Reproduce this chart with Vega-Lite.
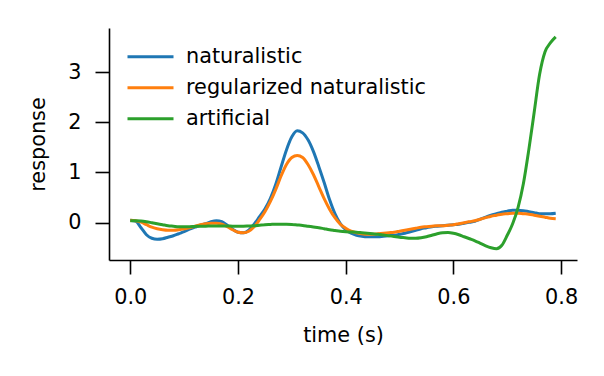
{
  "$schema": "https://vega.github.io/schema/vega-lite/v6.json",
  "width": 468,
  "height": 232,
  "autosize": {"type": "none"},
  "padding": {"left": 109, "top": 28, "right": 27, "bottom": 116},
  "background": "white",
  "config": {
    "font": "DejaVu Sans",
    "view": {"stroke": null},
    "axis": {
      "grid": false,
      "domainColor": "black",
      "domainWidth": 1.6,
      "tickColor": "black",
      "tickWidth": 1.6,
      "tickSize": 14,
      "labelColor": "black",
      "labelFontSize": 20.8,
      "titleColor": "black",
      "titleFontSize": 20.8,
      "titleFontWeight": "normal"
    }
  },
  "data": {"values": [
    {"s":"naturalistic","t":0.00,"v":0.05},{"s":"naturalistic","t":0.01,"v":0.03},{"s":"naturalistic","t":0.02,"v":-0.10},{"s":"naturalistic","t":0.03,"v":-0.24},{"s":"naturalistic","t":0.04,"v":-0.31},{"s":"naturalistic","t":0.05,"v":-0.33},{"s":"naturalistic","t":0.06,"v":-0.32},{"s":"naturalistic","t":0.07,"v":-0.29},{"s":"naturalistic","t":0.08,"v":-0.26},{"s":"naturalistic","t":0.09,"v":-0.22},
    {"s":"naturalistic","t":0.10,"v":-0.18},{"s":"naturalistic","t":0.11,"v":-0.13},{"s":"naturalistic","t":0.12,"v":-0.09},{"s":"naturalistic","t":0.13,"v":-0.05},{"s":"naturalistic","t":0.14,"v":-0.02},{"s":"naturalistic","t":0.15,"v":0.02},{"s":"naturalistic","t":0.16,"v":0.04},{"s":"naturalistic","t":0.17,"v":0.02},{"s":"naturalistic","t":0.18,"v":-0.05},{"s":"naturalistic","t":0.19,"v":-0.13},
    {"s":"naturalistic","t":0.20,"v":-0.19},{"s":"naturalistic","t":0.21,"v":-0.20},{"s":"naturalistic","t":0.22,"v":-0.15},{"s":"naturalistic","t":0.23,"v":-0.03},{"s":"naturalistic","t":0.24,"v":0.12},{"s":"naturalistic","t":0.25,"v":0.27},{"s":"naturalistic","t":0.26,"v":0.48},{"s":"naturalistic","t":0.27,"v":0.76},{"s":"naturalistic","t":0.28,"v":1.11},{"s":"naturalistic","t":0.29,"v":1.45},
    {"s":"naturalistic","t":0.30,"v":1.71},{"s":"naturalistic","t":0.31,"v":1.83},{"s":"naturalistic","t":0.32,"v":1.79},{"s":"naturalistic","t":0.33,"v":1.65},{"s":"naturalistic","t":0.34,"v":1.42},{"s":"naturalistic","t":0.35,"v":1.12},{"s":"naturalistic","t":0.36,"v":0.80},{"s":"naturalistic","t":0.37,"v":0.46},{"s":"naturalistic","t":0.38,"v":0.18},{"s":"naturalistic","t":0.39,"v":-0.02},
    {"s":"naturalistic","t":0.40,"v":-0.14},{"s":"naturalistic","t":0.41,"v":-0.21},{"s":"naturalistic","t":0.42,"v":-0.25},{"s":"naturalistic","t":0.43,"v":-0.27},{"s":"naturalistic","t":0.44,"v":-0.28},{"s":"naturalistic","t":0.45,"v":-0.28},{"s":"naturalistic","t":0.46,"v":-0.28},{"s":"naturalistic","t":0.47,"v":-0.27},{"s":"naturalistic","t":0.48,"v":-0.26},{"s":"naturalistic","t":0.49,"v":-0.25},
    {"s":"naturalistic","t":0.50,"v":-0.23},{"s":"naturalistic","t":0.51,"v":-0.21},{"s":"naturalistic","t":0.52,"v":-0.18},{"s":"naturalistic","t":0.53,"v":-0.15},{"s":"naturalistic","t":0.54,"v":-0.12},{"s":"naturalistic","t":0.55,"v":-0.10},{"s":"naturalistic","t":0.56,"v":-0.08},{"s":"naturalistic","t":0.57,"v":-0.07},{"s":"naturalistic","t":0.58,"v":-0.06},{"s":"naturalistic","t":0.59,"v":-0.05},
    {"s":"naturalistic","t":0.60,"v":-0.04},{"s":"naturalistic","t":0.61,"v":-0.03},{"s":"naturalistic","t":0.62,"v":-0.01},{"s":"naturalistic","t":0.63,"v":0.01},{"s":"naturalistic","t":0.64,"v":0.03},{"s":"naturalistic","t":0.65,"v":0.07},{"s":"naturalistic","t":0.66,"v":0.11},{"s":"naturalistic","t":0.67,"v":0.15},{"s":"naturalistic","t":0.68,"v":0.18},{"s":"naturalistic","t":0.69,"v":0.21},
    {"s":"naturalistic","t":0.70,"v":0.23},{"s":"naturalistic","t":0.71,"v":0.25},{"s":"naturalistic","t":0.72,"v":0.25},{"s":"naturalistic","t":0.73,"v":0.24},{"s":"naturalistic","t":0.74,"v":0.22},{"s":"naturalistic","t":0.75,"v":0.20},{"s":"naturalistic","t":0.76,"v":0.18},{"s":"naturalistic","t":0.77,"v":0.18},{"s":"naturalistic","t":0.78,"v":0.18},{"s":"naturalistic","t":0.79,"v":0.19},

    {"s":"regularized naturalistic","t":0.00,"v":0.05},{"s":"regularized naturalistic","t":0.01,"v":0.04},{"s":"regularized naturalistic","t":0.02,"v":0.01},{"s":"regularized naturalistic","t":0.03,"v":-0.04},{"s":"regularized naturalistic","t":0.04,"v":-0.09},{"s":"regularized naturalistic","t":0.05,"v":-0.12},{"s":"regularized naturalistic","t":0.06,"v":-0.14},{"s":"regularized naturalistic","t":0.07,"v":-0.15},{"s":"regularized naturalistic","t":0.08,"v":-0.15},{"s":"regularized naturalistic","t":0.09,"v":-0.14},
    {"s":"regularized naturalistic","t":0.10,"v":-0.12},{"s":"regularized naturalistic","t":0.11,"v":-0.10},{"s":"regularized naturalistic","t":0.12,"v":-0.07},{"s":"regularized naturalistic","t":0.13,"v":-0.04},{"s":"regularized naturalistic","t":0.14,"v":-0.02},{"s":"regularized naturalistic","t":0.15,"v":-0.01},{"s":"regularized naturalistic","t":0.16,"v":-0.01},{"s":"regularized naturalistic","t":0.17,"v":-0.03},{"s":"regularized naturalistic","t":0.18,"v":-0.08},{"s":"regularized naturalistic","t":0.19,"v":-0.14},
    {"s":"regularized naturalistic","t":0.20,"v":-0.19},{"s":"regularized naturalistic","t":0.21,"v":-0.20},{"s":"regularized naturalistic","t":0.22,"v":-0.17},{"s":"regularized naturalistic","t":0.23,"v":-0.08},{"s":"regularized naturalistic","t":0.24,"v":0.06},{"s":"regularized naturalistic","t":0.25,"v":0.22},{"s":"regularized naturalistic","t":0.26,"v":0.42},{"s":"regularized naturalistic","t":0.27,"v":0.66},{"s":"regularized naturalistic","t":0.28,"v":0.93},{"s":"regularized naturalistic","t":0.29,"v":1.16},
    {"s":"regularized naturalistic","t":0.30,"v":1.30},{"s":"regularized naturalistic","t":0.31,"v":1.34},{"s":"regularized naturalistic","t":0.32,"v":1.30},{"s":"regularized naturalistic","t":0.33,"v":1.16},{"s":"regularized naturalistic","t":0.34,"v":0.96},{"s":"regularized naturalistic","t":0.35,"v":0.72},{"s":"regularized naturalistic","t":0.36,"v":0.48},{"s":"regularized naturalistic","t":0.37,"v":0.27},{"s":"regularized naturalistic","t":0.38,"v":0.10},{"s":"regularized naturalistic","t":0.39,"v":-0.03},
    {"s":"regularized naturalistic","t":0.40,"v":-0.11},{"s":"regularized naturalistic","t":0.41,"v":-0.17},{"s":"regularized naturalistic","t":0.42,"v":-0.20},{"s":"regularized naturalistic","t":0.43,"v":-0.22},{"s":"regularized naturalistic","t":0.44,"v":-0.23},{"s":"regularized naturalistic","t":0.45,"v":-0.23},{"s":"regularized naturalistic","t":0.46,"v":-0.22},{"s":"regularized naturalistic","t":0.47,"v":-0.21},{"s":"regularized naturalistic","t":0.48,"v":-0.20},{"s":"regularized naturalistic","t":0.49,"v":-0.19},
    {"s":"regularized naturalistic","t":0.50,"v":-0.17},{"s":"regularized naturalistic","t":0.51,"v":-0.15},{"s":"regularized naturalistic","t":0.52,"v":-0.13},{"s":"regularized naturalistic","t":0.53,"v":-0.11},{"s":"regularized naturalistic","t":0.54,"v":-0.09},{"s":"regularized naturalistic","t":0.55,"v":-0.08},{"s":"regularized naturalistic","t":0.56,"v":-0.07},{"s":"regularized naturalistic","t":0.57,"v":-0.06},{"s":"regularized naturalistic","t":0.58,"v":-0.06},{"s":"regularized naturalistic","t":0.59,"v":-0.05},
    {"s":"regularized naturalistic","t":0.60,"v":-0.04},{"s":"regularized naturalistic","t":0.61,"v":-0.02},{"s":"regularized naturalistic","t":0.62,"v":0.00},{"s":"regularized naturalistic","t":0.63,"v":0.02},{"s":"regularized naturalistic","t":0.64,"v":0.04},{"s":"regularized naturalistic","t":0.65,"v":0.07},{"s":"regularized naturalistic","t":0.66,"v":0.10},{"s":"regularized naturalistic","t":0.67,"v":0.13},{"s":"regularized naturalistic","t":0.68,"v":0.15},{"s":"regularized naturalistic","t":0.69,"v":0.17},
    {"s":"regularized naturalistic","t":0.70,"v":0.18},{"s":"regularized naturalistic","t":0.71,"v":0.19},{"s":"regularized naturalistic","t":0.72,"v":0.19},{"s":"regularized naturalistic","t":0.73,"v":0.18},{"s":"regularized naturalistic","t":0.74,"v":0.17},{"s":"regularized naturalistic","t":0.75,"v":0.15},{"s":"regularized naturalistic","t":0.76,"v":0.13},{"s":"regularized naturalistic","t":0.77,"v":0.11},{"s":"regularized naturalistic","t":0.78,"v":0.09},{"s":"regularized naturalistic","t":0.79,"v":0.08},

    {"s":"artificial","t":0.00,"v":0.04},{"s":"artificial","t":0.01,"v":0.04},{"s":"artificial","t":0.02,"v":0.035},{"s":"artificial","t":0.03,"v":0.02},{"s":"artificial","t":0.04,"v":0.00},{"s":"artificial","t":0.05,"v":-0.02},{"s":"artificial","t":0.06,"v":-0.04},{"s":"artificial","t":0.07,"v":-0.06},{"s":"artificial","t":0.08,"v":-0.07},{"s":"artificial","t":0.09,"v":-0.08},
    {"s":"artificial","t":0.10,"v":-0.08},{"s":"artificial","t":0.11,"v":-0.08},{"s":"artificial","t":0.12,"v":-0.075},{"s":"artificial","t":0.13,"v":-0.07},{"s":"artificial","t":0.14,"v":-0.07},{"s":"artificial","t":0.15,"v":-0.065},{"s":"artificial","t":0.16,"v":-0.065},{"s":"artificial","t":0.17,"v":-0.065},{"s":"artificial","t":0.18,"v":-0.065},{"s":"artificial","t":0.19,"v":-0.07},
    {"s":"artificial","t":0.20,"v":-0.07},{"s":"artificial","t":0.21,"v":-0.07},{"s":"artificial","t":0.22,"v":-0.065},{"s":"artificial","t":0.23,"v":-0.06},{"s":"artificial","t":0.24,"v":-0.05},{"s":"artificial","t":0.25,"v":-0.04},{"s":"artificial","t":0.26,"v":-0.035},{"s":"artificial","t":0.27,"v":-0.03},{"s":"artificial","t":0.28,"v":-0.03},{"s":"artificial","t":0.29,"v":-0.03},
    {"s":"artificial","t":0.30,"v":-0.035},{"s":"artificial","t":0.31,"v":-0.045},{"s":"artificial","t":0.32,"v":-0.055},{"s":"artificial","t":0.33,"v":-0.07},{"s":"artificial","t":0.34,"v":-0.085},{"s":"artificial","t":0.35,"v":-0.10},{"s":"artificial","t":0.36,"v":-0.12},{"s":"artificial","t":0.37,"v":-0.14},{"s":"artificial","t":0.38,"v":-0.155},{"s":"artificial","t":0.39,"v":-0.17},
    {"s":"artificial","t":0.40,"v":-0.18},{"s":"artificial","t":0.41,"v":-0.185},{"s":"artificial","t":0.42,"v":-0.19},{"s":"artificial","t":0.43,"v":-0.20},{"s":"artificial","t":0.44,"v":-0.21},{"s":"artificial","t":0.45,"v":-0.22},{"s":"artificial","t":0.46,"v":-0.23},{"s":"artificial","t":0.47,"v":-0.245},{"s":"artificial","t":0.48,"v":-0.26},{"s":"artificial","t":0.49,"v":-0.275},
    {"s":"artificial","t":0.50,"v":-0.29},{"s":"artificial","t":0.51,"v":-0.30},{"s":"artificial","t":0.52,"v":-0.31},{"s":"artificial","t":0.53,"v":-0.31},{"s":"artificial","t":0.54,"v":-0.30},{"s":"artificial","t":0.55,"v":-0.28},{"s":"artificial","t":0.56,"v":-0.25},{"s":"artificial","t":0.57,"v":-0.22},{"s":"artificial","t":0.58,"v":-0.20},{"s":"artificial","t":0.59,"v":-0.195},
    {"s":"artificial","t":0.60,"v":-0.21},{"s":"artificial","t":0.61,"v":-0.24},{"s":"artificial","t":0.62,"v":-0.28},{"s":"artificial","t":0.63,"v":-0.32},{"s":"artificial","t":0.64,"v":-0.36},{"s":"artificial","t":0.65,"v":-0.41},{"s":"artificial","t":0.66,"v":-0.46},{"s":"artificial","t":0.67,"v":-0.50},{"s":"artificial","t":0.68,"v":-0.52},{"s":"artificial","t":0.69,"v":-0.45},
    {"s":"artificial","t":0.70,"v":-0.25},{"s":"artificial","t":0.71,"v":-0.02},{"s":"artificial","t":0.72,"v":0.30},{"s":"artificial","t":0.73,"v":0.78},{"s":"artificial","t":0.74,"v":1.45},{"s":"artificial","t":0.75,"v":2.20},{"s":"artificial","t":0.76,"v":2.95},{"s":"artificial","t":0.77,"v":3.40},{"s":"artificial","t":0.78,"v":3.58},{"s":"artificial","t":0.79,"v":3.70}
  ]},
  "mark": {"type": "line", "strokeWidth": 3, "interpolate": "monotone"},
  "encoding": {
    "x": {
      "field": "t", "type": "quantitative",
      "scale": {"domain": [-0.0395, 0.8295], "nice": false, "zero": false},
      "axis": {"values": [0, 0.2, 0.4, 0.6, 0.8], "format": ".1f", "title": "time (s)", "labelPadding": 13, "titlePadding": 19}
    },
    "y": {
      "field": "v", "type": "quantitative",
      "scale": {"domain": [-0.743, 3.878], "nice": false, "zero": false},
      "axis": {"values": [0, 1, 2, 3], "title": "response", "labelPadding": 14, "titlePadding": 19}
    },
    "color": {
      "field": "s", "type": "nominal",
      "sort": ["naturalistic", "regularized naturalistic", "artificial"],
      "scale": {"domain": ["naturalistic", "regularized naturalistic", "artificial"], "range": ["#1f77b4", "#ff7f0e", "#2ca02c"]},
      "legend": {
        "title": null,
        "orient": "none",
        "legendX": 17,
        "legendY": 13.5,
        "symbolType": "stroke",
        "symbolSize": 2116,
        "symbolStrokeWidth": 3,
        "labelFontSize": 20.8,
        "labelColor": "black",
        "labelOffset": 11,
        "labelLimit": 0,
        "clipHeight": 30.3,
        "rowPadding": 0
      }
    }
  }
}
